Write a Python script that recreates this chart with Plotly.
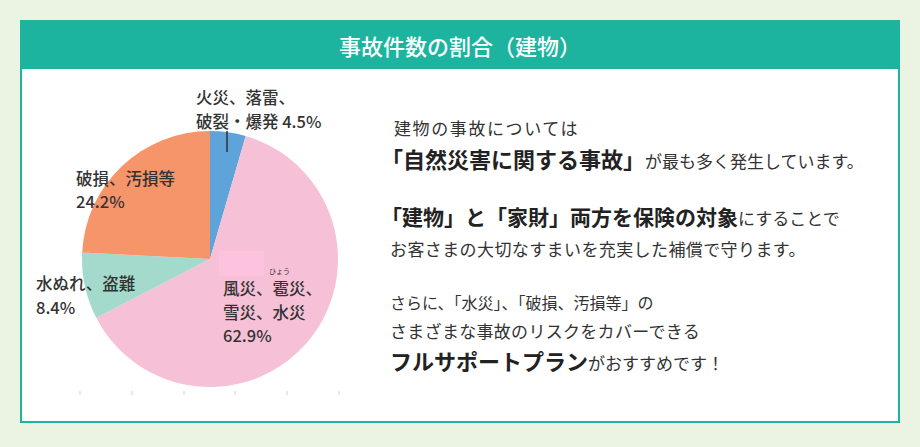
import plotly.graph_objects as go

W, H = 920, 447
def X(px): return px / W
def Y(py): return 1 - py / H

# ---- data ----
categories = ["火災、落雷、破裂・爆発", "風災、雹災、雪災、水災", "水ぬれ、盗難", "破損、汚損等"]
values = [4.5, 62.9, 8.4, 24.2]
colors = ["#5EA4DB", "#F6C0D7", "#A3DACB", "#F6956A"]
# label lines (text split as in the picture); value appended from `values`
label_lines = [
    ["火災、落雷、", "破裂・爆発 {v}%"],
    ["風災、雹災、", "雪災、水災", "{v}%"],
    ["水ぬれ、盗難", "{v}%"],
    ["破損、汚損等", "{v}%"],
]
title_text = "事故件数の割合（建物）"
desc_lines = [
    [("建物の事故については", False)],
    [("「自然災害に関する事故」", True), ("が最も多く発生しています。", False)],
    [("「建物」と「家財」両方を保険の対象", True), ("にすることで", False)],
    [("お客さまの大切なすまいを充実した補償で守ります。", False)],
    [("さらに、「水災」、「破損、汚損等」の", False)],
    [("さまざまな事故のリスクをカバーできる", False)],
    [("フルサポートプラン", True), ("がおすすめです！", False)],
]

# ---- layout positions / styles ----
FONT = "Noto Sans CJK JP"
FONT_MED = "Noto Sans CJK JP Medium, Noto Sans CJK JP"
TEAL = "#1CB49F"
BG = "#EBF3E3"
pie_cx, pie_cy, pie_r = 210, 259, 128

fig = go.Figure()
fig.add_trace(go.Pie(
    labels=categories, values=values, sort=False, direction="clockwise", rotation=0,
    marker=dict(colors=colors, line=dict(width=0)),
    textinfo="none", hoverinfo="none", showlegend=False,
    domain=dict(x=[X(pie_cx - pie_r), X(pie_cx + pie_r)],
                y=[Y(pie_cy + pie_r), Y(pie_cy - pie_r)]),
))

shapes = []
shapes.append(dict(type="rect", xref="paper", yref="paper", layer="below",
                   x0=X(21), x1=X(899), y0=Y(422), y1=Y(21),
                   fillcolor="white", line=dict(color=TEAL, width=2)))
shapes.append(dict(type="rect", xref="paper", yref="paper", layer="below",
                   x0=X(20), x1=X(900), y0=Y(69), y1=Y(20),
                   fillcolor=TEAL, line=dict(width=0)))
for tx in [80, 132, 184, 235, 287, 339]:
    shapes.append(dict(type="line", xref="paper", yref="paper", layer="below",
                       x0=X(tx), x1=X(tx), y0=Y(391), y1=Y(395),
                       line=dict(color="#D0D0D0", width=1)))
shapes.append(dict(type="rect", xref="paper", yref="paper", layer="above",
                   x0=X(219), x1=X(264), y0=Y(276), y1=Y(251),
                   fillcolor="#FCC2DE", line=dict(width=0)))
shapes.append(dict(type="line", xref="paper", yref="paper", layer="above",
                   x0=X(227), x1=X(227), y0=Y(131), y1=Y(152),
                   line=dict(color="#333333", width=1.5)))

ann = []
ann.append(dict(text=title_text, x=X(460), y=Y(45), xref="paper", yref="paper",
                xanchor="center", yanchor="middle", showarrow=False,
                font=dict(family=FONT_MED, size=22, color="white")))

# label blocks: (left x, centre y of first line); line step in px
label_pos = [(194, 97.5), (221, 288), (34, 283), (74, 178)]
LSTEP = 23.5
for lines, v, (lx, ly) in zip(label_lines, values, label_pos):
    for i, l in enumerate(lines):
        ann.append(dict(text=l.format(v=v), x=X(lx), y=Y(ly + i * LSTEP),
                        xref="paper", yref="paper",
                        xanchor="left", yanchor="middle", showarrow=False,
                        font=dict(family=FONT_MED, size=16.5, color="#333333")))
ann.append(dict(text="ひょう", x=X(279), y=Y(271), xref="paper", yref="paper",
                xanchor="center", yanchor="middle", showarrow=False,
                font=dict(family=FONT, size=7, color="#333333")))

desc_y = [127, 158, 216, 248, 302, 330, 360]
desc_x = [392, 379, 379, 388, 388, 388, 388]
bold_size = [22, 22, 21, 22, 22, 22, 22]
reg_size = [17, 17, 17, 17, 16, 17, 17]
reg_spacing = [1.6, 0, 0, 0.4, 0, 0.3, 0]
for segs, dy, dx, bs, rs, sp in zip(desc_lines, desc_y, desc_x, bold_size, reg_size, reg_spacing):
    html = ""
    for s, bold in segs:
        if bold:
            html += f"<span style='font-size:{bs}px;font-weight:bold;fill:#222222'>{s}</span>"
        else:
            html += f"<span style='font-size:{rs}px;letter-spacing:{sp}px'>{s}</span>"
    ann.append(dict(text=html, x=X(dx), y=Y(dy), xref="paper", yref="paper",
                    xanchor="left", yanchor="middle", showarrow=False,
                    font=dict(family=FONT, size=17, color="#333333")))

fig.update_layout(width=W, height=H, margin=dict(l=0, r=0, t=0, b=0),
                  paper_bgcolor=BG, plot_bgcolor=BG, shapes=shapes, annotations=ann)
fig.write_html("out.html")
